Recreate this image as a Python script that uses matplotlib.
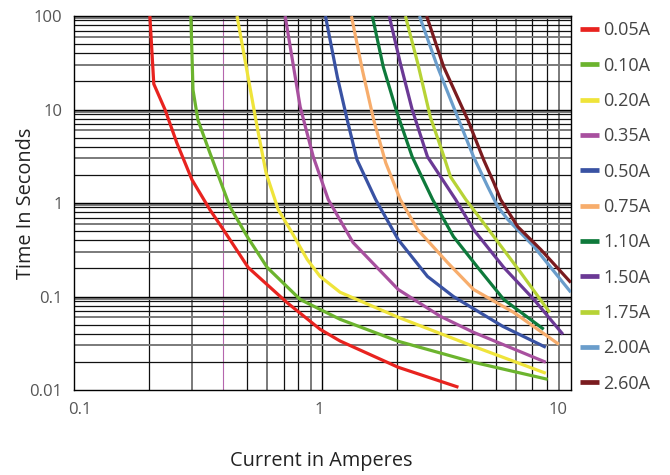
import matplotlib.pyplot as plt
from matplotlib.transforms import ScaledTranslation

plt.rcParams['font.family'] = ['Open Sans', 'DejaVu Sans']

# time-current curves (current in A, time in s)
labels = ["0.05A", "0.10A", "0.20A", "0.35A", "0.50A", "0.75A",
          "1.10A", "1.50A", "1.75A", "2.00A", "2.60A"]
colors = ["#e8231f", "#6cb42e", "#efe43a", "#a8509f", "#3952a3", "#f7ad6c",
          "#0e7a3b", "#6b3995", "#b7d336", "#6a9dcb", "#7a1b1f"]

x_005 = [0.2025, 0.21, 0.233, 0.26, 0.299, 0.353, 0.40, 0.503, 0.72, 0.98, 1.18, 2.02, 3.53]
y_005 = [100, 18.8, 10.0, 4.4, 1.78, 0.85, 0.52, 0.205, 0.0865, 0.0446, 0.0334, 0.0175, 0.0107]

x_010 = [0.296, 0.302, 0.316, 0.353, 0.425, 0.499, 0.60, 0.815, 0.98, 1.18, 2.02, 4.06, 8.07]
y_010 = [100, 16.2, 7.76, 3.45, 0.916, 0.438, 0.205, 0.093, 0.0728, 0.057, 0.0332, 0.0198, 0.013]

x_020 = [0.454, 0.503, 0.547, 0.594, 0.665, 0.743, 0.87, 0.98, 1.18, 2.02, 4.06, 7.93]
y_020 = [100, 22.3, 6.53, 2.11, 0.85, 0.52, 0.249, 0.164, 0.111, 0.060, 0.0293, 0.0151]

x_035 = [0.709, 0.815, 0.92, 1.057, 1.33, 2.02, 2.99, 4.06, 7.93]
y_035 = [100, 10.7, 3.13, 1.09, 0.378, 0.119, 0.0613, 0.0414, 0.0198]

x_050 = [1.03, 1.15, 1.26, 1.38, 1.64, 2.02, 2.65, 3.37, 5.32, 7.93]
y_050 = [100, 22.3, 7.76, 2.9, 1.09, 0.407, 0.164, 0.100, 0.048, 0.0286]

x_075 = [1.31, 1.45, 1.61, 1.80, 2.06, 2.42, 3.19, 4.06, 5.89, 8.95]
y_075 = [100, 26.5, 7.76, 2.7, 1.09, 0.52, 0.231, 0.119, 0.0676, 0.0308]

x_110 = [1.59, 1.76, 2.0, 2.3, 2.78, 3.37, 4.22, 5.37, 7.78]
y_110 = [100, 28.6, 9.2, 3.13, 1.09, 0.438, 0.205, 0.093, 0.0446]

x_150 = [1.86, 2.06, 2.3, 2.65, 3.44, 4.06, 5.37, 7.1, 9.29]
y_150 = [100, 31.5, 10.0, 3.13, 1.09, 0.52, 0.205, 0.093, 0.0394]

x_175 = [2.16, 2.42, 2.72, 3.05, 3.28, 3.78, 4.9, 6.28, 8.22]
y_175 = [100, 31.5, 8.36, 3.45, 1.91, 1.09, 0.438, 0.181, 0.0676]

x_200 = [2.46, 2.91, 3.5, 4.06, 4.63, 5.08, 5.58, 7.1, 10.0]
y_200 = [100, 28.6, 8.36, 3.13, 1.5, 0.916, 0.666, 0.343, 0.111]

x_260 = [2.63, 3.08, 3.85, 4.46, 4.9, 5.22, 6.11, 7.57, 10.0]
y_260 = [100, 28.6, 7.76, 2.9, 1.65, 1.09, 0.56, 0.318, 0.141]

xs = [x_005, x_010, x_020, x_035, x_050, x_075, x_110, x_150, x_175, x_200, x_260]
ys = [y_005, y_010, y_020, y_035, y_050, y_075, y_110, y_150, y_175, y_200, y_260]

fig = plt.figure(figsize=(6.7, 4.75), dpi=100)
ax = fig.add_axes([0.110, 0.179, 0.742, 0.787])
ax.set_xscale("log")
ax.set_yscale("log")
ax.set_xlim(0.1, 10)
ax.set_ylim(0.01, 100)

# grid drawn by hand: dark lines, a few grey ones, and a pink one at 0.4
for dec in [0.1, 1]:
    for m in [2, 3, 4, 5, 6, 7, 8, 9]:
        v = dec * m
        if abs(v - 0.4) < 1e-9:
            ax.axvline(v, color="#b565ad", lw=0.8, zorder=1)
        elif m in (3, 6, 9):
            ax.axvline(v, color="#7a7a7a", lw=1.4, zorder=1)
        else:
            ax.axvline(v, color="#111111", lw=0.9, zorder=1)
ax.axvline(1, color="black", lw=1.0, zorder=1)

for dec in [0.01, 0.1, 1, 10]:
    for m in [2, 3, 4, 5, 6, 7, 8, 9, 9.5]:
        v = dec * m
        if m in (3, 6, 9.5):
            ax.axhline(v, color="#7a7a7a", lw=1.4, zorder=1)
        else:
            ax.axhline(v, color="#111111", lw=0.9, zorder=1)
    if dec > 0.01:
        ax.axhline(dec, color="black", lw=1.0, zorder=1)

lines = []
for x, y, c, lab in zip(xs, ys, colors, labels):
    ln, = ax.plot(x, y, color=c, lw=2.3, label=lab, zorder=3,
                  solid_capstyle="butt")
    lines.append(ln)

for s in ax.spines.values():
    s.set_color("black")
    s.set_linewidth(1.0)

ax.minorticks_off()
ax.set_xticks([0.1, 1, 10])
ax.set_xticklabels(["0.1", "1", "10"])
ax.set_yticks([0.01, 0.1, 1, 10, 100])
ax.set_yticklabels(["0.01", "0.1", "1", "10", "100"])
ax.tick_params(length=0, labelsize=12, labelcolor="#555555")
ax.tick_params(axis="x", pad=9)
ax.tick_params(axis="y", pad=8)

# the x labels in the original sit a little off their gridlines
for lab, dx in zip(ax.get_xticklabels(), [6, -3, -13]):
    lab.set_transform(lab.get_transform() + ScaledTranslation(dx / 100, 0, fig.dpi_scale_trans))

ax.set_xlabel("Current in Amperes", fontsize=14.3, color="#222222")
ax.xaxis.set_label_coords(0.497, -0.163)
ax.set_ylabel("Time In Seconds", fontsize=14.3, color="#222222")
ax.yaxis.set_label_coords(-0.076, 0.5)

leg = fig.legend(handles=lines, loc="upper left", bbox_to_anchor=(0.865, 0.955),
                 frameon=False, fontsize=13, handlelength=1.1, handletextpad=0.2,
                 labelspacing=0.96, borderpad=0, borderaxespad=0)
for h in leg.get_lines():
    h.set_linewidth(3.4)
for t in leg.get_texts():
    t.set_color("#444444")

fig.savefig("out.png", dpi=100)
